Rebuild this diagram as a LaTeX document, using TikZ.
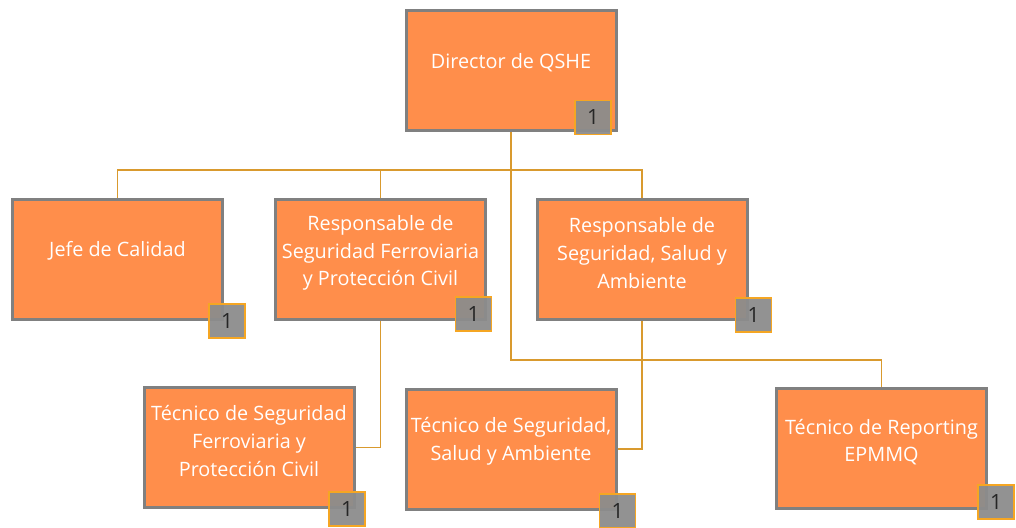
\documentclass[tikz,border=0pt]{standalone}
\usepackage{fontspec}
\setmainfont{Open Sans}
\definecolor{boxfill}{HTML}{FF8E4B}
\definecolor{boxedge}{HTML}{808080}
\definecolor{linec}{HTML}{D99A2E}
\definecolor{badgefill}{HTML}{8C8C8C}
\definecolor{badgeedge}{HTML}{F5A623}
\begin{document}
\begin{tikzpicture}[x=1pt,y=-1pt,
  role/.style={draw=boxedge,line width=3pt,fill=boxfill,minimum width=210pt,minimum height=120pt,inner sep=0pt},
  rtext/.style={text=white,align=center,font=\fontsize{19.8}{27.8}\selectfont,inner sep=0pt},
  badge/.style={draw=badgeedge,line width=1.6pt,fill=badgefill,fill opacity=0.95,minimum width=36pt,minimum height=34pt,inner sep=0pt,text=black!85,text opacity=1,font=\fontsize{21}{22}\selectfont},
  conn/.style={draw=linec,line width=1.6pt}]
\useasboundingbox (0,0) rectangle (1016,527);
% connectors
\coordinate (j1) at (511,170);
\coordinate (j2) at (511,360);
\node[role] (dir) at (511,70.5) {};
\node[role] (jefe) at (117.5,259) {};
\node[role] (rsf) at (380.5,259) {};
\node[role] (rss) at (642,259) {};
\node[role] (tsf) at (249,447.5) {};
\node[role] (tss) at (511,449) {};
\node[role] (trp) at (881.5,448.5) {};
\draw[conn] (dir.south) -- (j2) -| (trp.north);
\draw[conn] (jefe.north) |- (j1) -| (rss.north);
\draw[conn] (rsf.north) -- (rsf.north |- j1);
\draw[conn] (rsf.south) |- (tsf.east);
\draw[conn] (rss.south) |- (tss.east);
% redraw boxes on top
\node[role] at (dir) {};
\node[role] at (jefe) {};
\node[role] at (rsf) {};
\node[role] at (rss) {};
\node[role] at (tsf) {};
\node[role] at (tss) {};
\node[role] at (trp) {};
% texts
\node[rtext] (tdir) at (511,63) {Director de QSHE};
\node[rtext] (tjefe) at (117.5,251) {Jefe de Calidad};
\node[rtext] (trsf) at (380.5,253) {Responsable de\\Seguridad Ferroviaria\\y Protección Civil};
\node[rtext] (trss) at (642,253) {Responsable de\\Seguridad, Salud y\\Ambiente};
\node[rtext] (ttsf) at (249,441) {Técnico de Seguridad\\Ferroviaria y\\Protección Civil};
\node[rtext] (ttss) at (511,441) {Técnico de Seguridad,\\Salud y Ambiente};
\node[rtext] (ttrp) at (881.5,442) {Técnico de Reporting\\EPMMQ};
% badges
\node[badge] (bdir) at (593,117.5) {1};
\node[badge] (bjefe) at (227,321) {1};
\node[badge] (brsf) at (473.5,314) {1};
\node[badge] (brss) at (753.5,315) {1};
\node[badge] (btsf) at (347,509) {1};
\node[badge] (btss) at (617.5,511) {1};
\node[badge] (btrp) at (996,502) {1};
\end{tikzpicture}
\end{document}
